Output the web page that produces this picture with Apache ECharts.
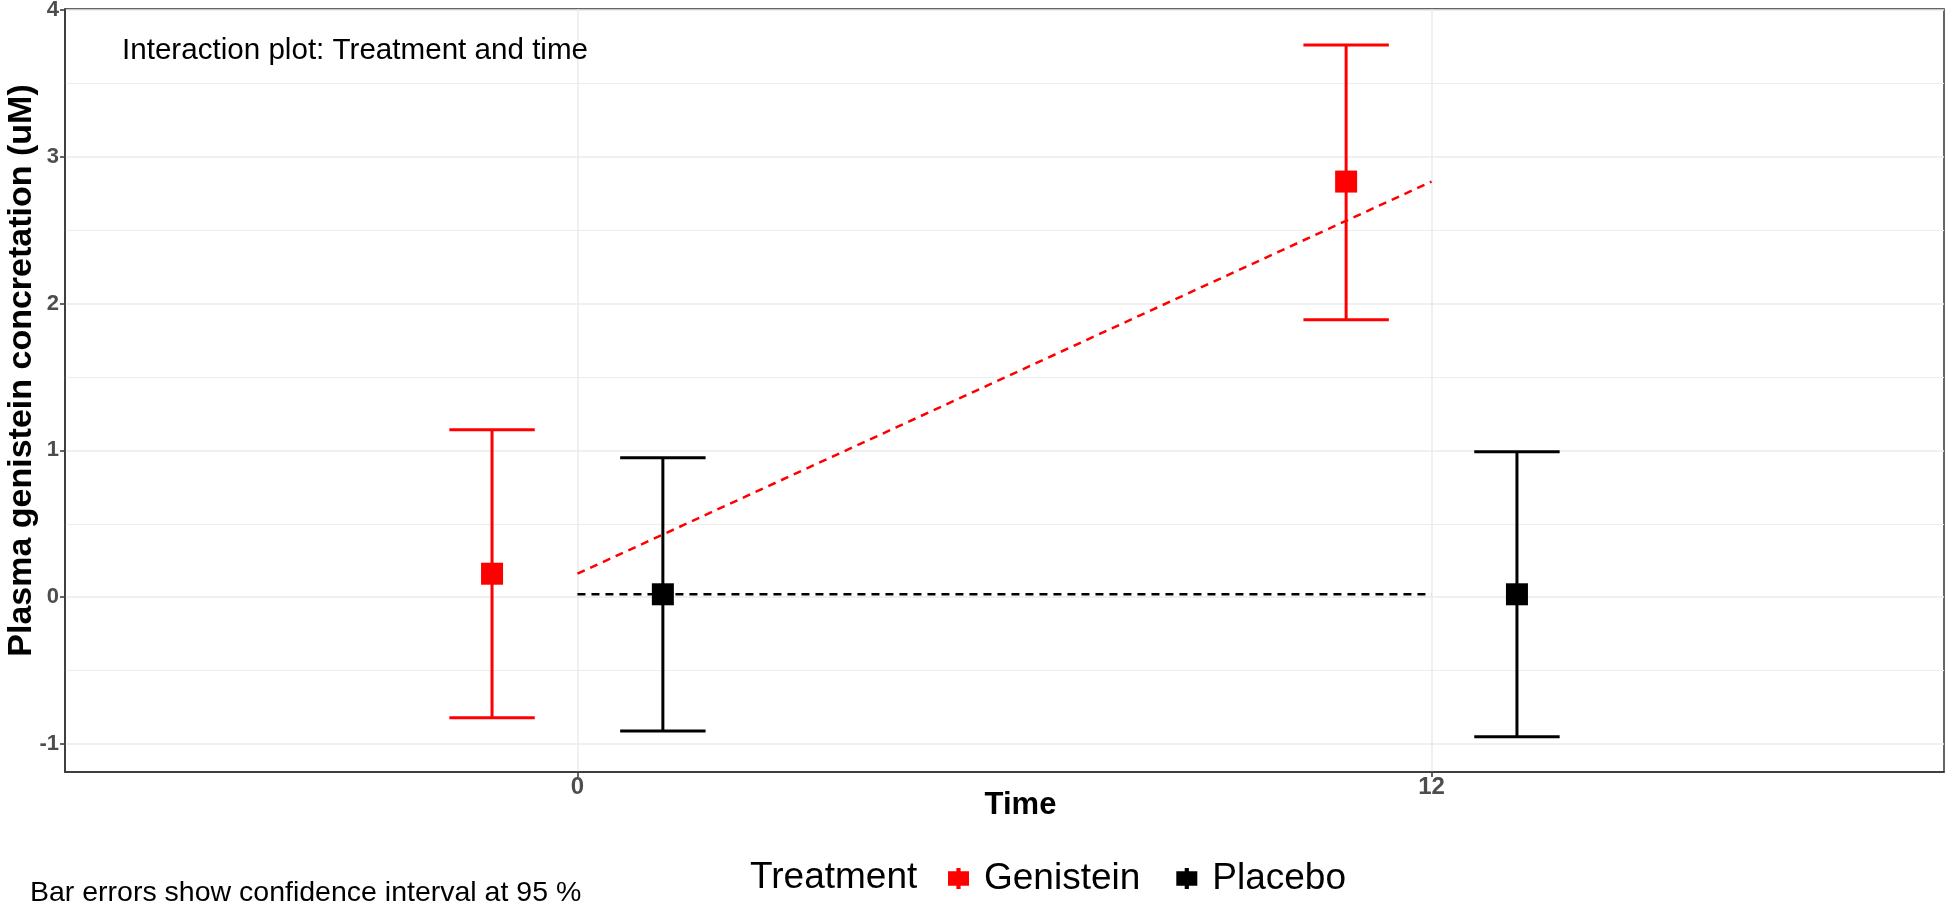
<!DOCTYPE html>
<html><head><meta charset="utf-8">
<script src="https://cdn.jsdelivr.net/npm/echarts@6/dist/echarts.min.js"></script>
<style>html,body{margin:0;padding:0;background:#fff}#c{width:1945px;height:904px}</style>
</head><body><div id="c"></div>
<script>
// ---- data ----
const times = ['0', '12'];
const treatments = ['Genistein', 'Placebo'];
const genisteinMean = [0.16, 2.83];
const genisteinLow = [-0.82, 1.89];
const genisteinHigh = [1.14, 3.76];
const placeboMean = [0.02, 0.02];
const placeboLow = [-0.91, -0.95];
const placeboHigh = [0.95, 0.99];
const yTicks = [-1, 0, 1, 2, 3, 4];
const yMinorTicks = [-0.5, 0.5, 1.5, 2.5, 3.5];

// ---- layout / style ----
const FONT = 'Liberation Sans, Arial, sans-serif';
const RED = '#ff0000', BLACK = '#000000';
const DODGE = 0.1;          // position dodge (half)
const CAP_HALF = 0.05;      // error bar cap half width, in x units
const catPos = times.map((t, i) => i + 1);

function pts(offset, vals) { return catPos.map((p, i) => [p + offset, vals[i]]); }
function bars(offset, lo, hi) { return catPos.map((p, i) => [p + offset, lo[i], hi[i]]); }

function errorBarRender(color) {
  return function (params, api) {
    const x = api.value(0), lo = api.value(1), hi = api.value(2);
    const pLo = api.coord([x, lo]);
    const pHi = api.coord([x, hi]);
    const half = api.size([CAP_HALF, 0])[0];
    const style = { stroke: color, lineWidth: 3, fill: null };
    return { type: 'group', children: [
      { type: 'line', shape: { x1: pLo[0], y1: pLo[1], x2: pHi[0], y2: pHi[1] }, style: style },
      { type: 'line', shape: { x1: pHi[0] - half, y1: pHi[1], x2: pHi[0] + half, y2: pHi[1] }, style: style },
      { type: 'line', shape: { x1: pLo[0] - half, y1: pLo[1], x2: pLo[0] + half, y2: pLo[1] }, style: style }
    ]};
  };
}

const legendIcon = 'path://M8,0h4v3h8v14h-8v3h-4v-3h-8v-14h8z';
const chart = echarts.init(document.getElementById('c'), null, { renderer: 'canvas' });

const option = {
  backgroundColor: '#ffffff',
  animation: false,
  textStyle: { fontFamily: FONT },
  title: {
    text: 'Interaction plot: Treatment and time',
    left: 117, top: 31,
    textStyle: { fontFamily: FONT, fontSize: 29.6, fontWeight: 'normal', color: '#000' }
  },
  grid: { left: 65, right: 1, top: 9, bottom: 132, show: true, borderColor: '#333333', borderWidth: 1.5, containLabel: false, outerBoundsMode: 'none' },
  legend: {
    left: 943, top: 855, orient: 'horizontal',
    itemWidth: 21, itemHeight: 21, itemGap: 36,
    textStyle: { fontFamily: FONT, fontSize: 37, color: '#000', padding: [0, 0, 0, 10] },
    data: [
      { name: treatments[0], icon: legendIcon, itemStyle: { color: RED, borderWidth: 0, opacity: 1 } },
      { name: treatments[1], icon: legendIcon, itemStyle: { color: BLACK, borderWidth: 0, opacity: 1 } }
    ]
  },
  graphic: [
    { type: 'text', left: 750, top: 859, style: { text: 'Treatment', fontFamily: FONT, fontSize: 37, fill: '#000' } },
    { type: 'text', left: 30, top: 879, style: { text: 'Bar errors show confidence interval at 95 %', fontFamily: FONT, fontSize: 28.5, fill: '#000' } }
  ],
  xAxis: {
    type: 'value', min: 0.4, max: 2.6,
    name: 'Time', nameLocation: 'middle', nameGap: 18, nameMoveOverlap: false,
    nameTextStyle: { fontFamily: FONT, fontSize: 31, fontWeight: 'bold', color: '#000', padding: [0, 0, 0, 32] },
    axisLine: { show: true, onZero: false, lineStyle: { color: '#333333', width: 1.5 } },
    axisTick: { show: true, customValues: catPos, length: 5, lineStyle: { color: '#333333', width: 1.5 } },
    axisLabel: { customValues: catPos, formatter: v => times[Math.round(v) - 1], fontFamily: FONT, fontSize: 24, fontWeight: 'bold', color: '#4d4d4d', margin: 3 },
    splitLine: { show: true, lineStyle: { color: '#ebebeb', width: 1.5 } }
  },
  yAxis: [
    {
      type: 'value', min: -1.19, max: 4.005,
      name: 'Plasma genistein concretation (uM)', nameLocation: 'middle', nameGap: 26, nameRotate: 90, nameMoveOverlap: false,
      nameTextStyle: { fontFamily: FONT, fontSize: 34, fontWeight: 'bold', color: '#000', padding: [0, 0, 0, 40] },
      axisLine: { show: true, onZero: false, lineStyle: { color: '#333333', width: 1.5 } },
      axisTick: { show: true, customValues: yTicks, length: 5, lineStyle: { color: '#333333', width: 1.5 } },
      axisLabel: { customValues: yTicks, fontFamily: FONT, fontSize: 22, fontWeight: 'bold', color: '#4d4d4d', margin: 6 },
      splitLine: { show: true, lineStyle: { color: '#ebebeb', width: 1.5 } }
    },
    {
      type: 'value', min: -1.19, max: 4.005, position: 'left',
      axisLine: { show: false },
      axisTick: { show: false, customValues: yMinorTicks },
      axisLabel: { show: false, customValues: yMinorTicks },
      splitLine: { show: true, lineStyle: { color: '#ededed', width: 1.2 } }
    }
  ],
  series: [
    { name: treatments[0], type: 'scatter', symbol: 'rect', symbolSize: 22, itemStyle: { color: RED, opacity: 1 }, z: 5, data: pts(-DODGE, genisteinMean) },
    { name: treatments[1], type: 'scatter', symbol: 'rect', symbolSize: 22, itemStyle: { color: BLACK, opacity: 1 }, z: 5, data: pts(DODGE, placeboMean) },
    { name: treatments[0], type: 'custom', renderItem: errorBarRender(RED), encode: { x: 0, y: [1, 2] }, z: 3, data: bars(-DODGE, genisteinLow, genisteinHigh) },
    { name: treatments[1], type: 'custom', renderItem: errorBarRender(BLACK), encode: { x: 0, y: [1, 2] }, z: 3, data: bars(DODGE, placeboLow, placeboHigh) },
    { name: treatments[0], type: 'line', showSymbol: false, symbol: 'none', lineStyle: { color: RED, width: 2.5, type: [8, 6] }, z: 4, data: pts(0, genisteinMean) },
    { name: treatments[1], type: 'line', showSymbol: false, symbol: 'none', lineStyle: { color: BLACK, width: 2.5, type: [8, 6] }, z: 4, data: pts(0, placeboMean) }
  ]
};
chart.setOption(option);
</script>
</body></html>
